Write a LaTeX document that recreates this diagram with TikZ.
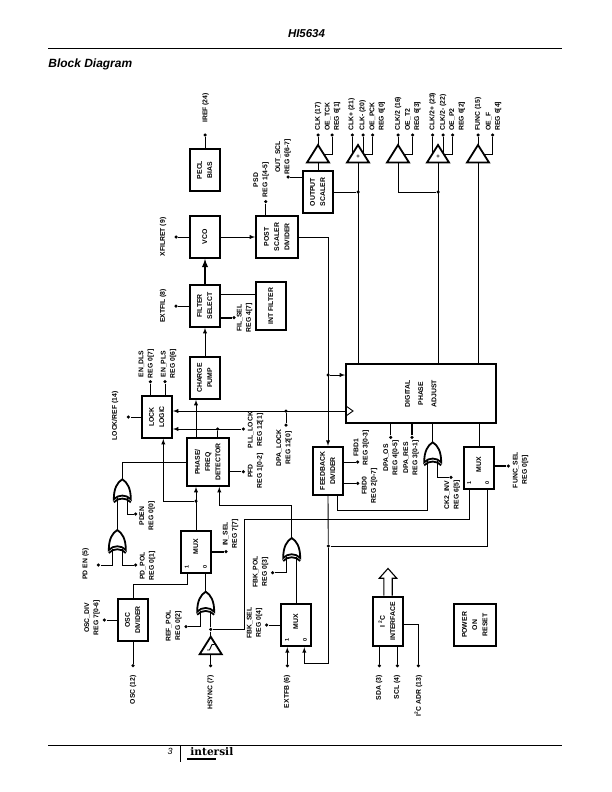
\documentclass[tikz,border=0pt]{standalone}
\usepackage{fontspec}
\setmainfont{Liberation Sans}
\newfontfamily\logofont{DejaVu Serif}
\usepackage{tikz}
\usetikzlibrary{arrows}
\newcommand{\labfont}{\fontsize{6.85}{9.3}\selectfont\bfseries}
\newcommand{\boxfont}{\fontsize{6.9}{10.3}\selectfont\bfseries}
\newcommand{\vt}[1]{\rotatebox{90}{\begin{tabular}{@{}c@{}}#1\end{tabular}}}
\tikzstyle{blockbox} = [draw, rectangle, line width=1.8bp, inner sep=0, font=\boxfont]
\tikzstyle{dotnode} = [circle, fill, inner sep=0, minimum size=3.5bp]
\tikzstyle{labmid} = [rotate=90, align=center, inner sep=0, font=\labfont]
\tikzstyle{labtop} = [rotate=90, anchor=west, align=left, inner sep=0, font=\labfont]
\tikzstyle{labend} = [rotate=90, anchor=east, inner sep=0, font=\labfont]
\tikzstyle{muxmark} = [rotate=90, inner sep=0, font=\fontsize{5.5}{6}\selectfont\bfseries]
\tikzstyle{fatwire} = [line width=1.8bp]
\tikzset{
  xorup/.pic={
    \draw[fatwire] (0,0) .. controls (5,3) and (8.5,9) .. (8.5,20)
      .. controls (4,15) and (-4,15) .. (-8.5,20)
      .. controls (-8.5,9) and (-5,3) .. (0,0) -- cycle;
    \draw[fatwire] (-8.5,23) .. controls (-4,18) and (4,18) .. (8.5,23);
    \coordinate (-out) at (0,0);
    \coordinate (-ina) at (-5,19);
    \coordinate (-inb) at (5,19);
  },
  bufup/.pic={
    \draw[fatwire] (0,0) -- (11,17.5) -- (-11,17.5) -- cycle;
    \coordinate (-out) at (0,0);
    \coordinate (-in) at (0,17.5);
    \coordinate (-oe) at (7,9.3);
    \coordinate (-side) at (0,8);
  }
}
\begin{document}
\begin{tikzpicture}[x=1bp,y=-1bp,line width=.9bp,>=latex]
  \useasboundingbox (0,0) rectangle (612,792);

  % page furniture
  \node[font=\fontsize{11.5}{12}\selectfont\bfseries\itshape] (title) at (306.5,34) {HI5634};
  \node[font=\fontsize{12}{12}\selectfont\bfseries\itshape,anchor=west,inner sep=0] (head) at (48,64) {Block Diagram};
  \coordinate (rta) at (48,48.3);
  \coordinate (rtb) at (562,48.3);
  \coordinate (rba) at (48,745);
  \coordinate (rbb) at (562,745);
  \coordinate (bara) at (180.7,745);
  \coordinate (barb) at (180.7,762);
  \draw (rta) -- (rtb);
  \draw (rba) -- (rbb);
  \draw (bara) -- (barb);
  \node[font=\fontsize{9}{10}\selectfont\itshape] (pageno) at (170,751) {3};
  \node[font=\logofont\fontsize{10.6}{12}\selectfont\bfseries,anchor=west,inner sep=0] (logo) at (190,752) {intersil};
  \coordinate (loa) at (187,759);
  \coordinate (lob) at (216,759);
  \draw[line width=1.2bp] (loa) -- (lob);

  % blocks
  \node[blockbox,minimum width=30bp,minimum height=42bp] (pecl) at (205,170) {\vt{PECL\\BIAS}};
  \node[blockbox,minimum width=30bp,minimum height=42bp] (vco) at (205,237) {\vt{VCO}};
  \node[blockbox,minimum width=42bp,minimum height=42bp] (post) at (277,237) {\vt{POST\\SCALER\\DIVIDER}};
  \node[blockbox,minimum width=30bp,minimum height=42bp] (oscal) at (318,192) {\vt{OUTPUT\\SCALER}};
  \node[blockbox,minimum width=30bp,minimum height=42bp] (filter) at (205,306) {\vt{FILTER\\SELECT}};
  \node[blockbox,minimum width=30bp,minimum height=48bp] (intf) at (271,306) {\vt{INT FILTER}};
  \node[blockbox,minimum width=30bp,minimum height=42bp] (cp) at (205,378) {\vt{CHARGE\\PUMP}};
  \node[blockbox,minimum width=30bp,minimum height=42bp] (lock) at (157,417) {\vt{LOCK\\LOGIC}};
  \node[blockbox,minimum width=42bp,minimum height=48bp] (pd) at (208,462) {\vt{PHASE/\\FREQ\\DETECTOR}};
  \node[blockbox,minimum width=150bp,minimum height=59bp] (dpa) at (421,393.7) {\vt{DIGITAL\\[3pt]PHASE\\[3pt]ADJUST}};
  \node[blockbox,minimum width=30bp,minimum height=48.6bp] (fb) at (328,471) {\vt{FEEDBACK\\DIVIDER}};
  \node[blockbox,minimum width=30bp,minimum height=42.6bp] (muxf) at (479,468) {\vt{\hspace{6pt}MUX}};
  \node[blockbox,minimum width=30bp,minimum height=42.6bp] (muxa) at (196,552) {\vt{\hspace{10pt}MUX}};
  \node[blockbox,minimum width=30bp,minimum height=42.6bp] (muxb) at (296,625) {\vt{\hspace{6pt}MUX}};
  \node[blockbox,minimum width=30.6bp,minimum height=42bp] (osc) at (133,620) {\vt{OSC\\DIVIDER}};
  \node[blockbox,minimum width=30.6bp,minimum height=49.4bp] (i2c) at (388,621.3) {\vt{I\ \textsuperscript{2}C\\INTERFACE}};
  \node[blockbox,minimum width=42.6bp,minimum height=42bp] (por) at (475,625) {\vt{POWER\\ON\\RESET}};

  % mux inputs
  \node[muxmark] (ma1) at (186.7,566.7) {1};
  \node[muxmark] (ma0) at (205,566.7) {0};
  \node[muxmark] (mb1) at (287,640) {1};
  \node[muxmark] (mb0) at (305,640) {0};
  \node[muxmark] (mf1) at (469.3,482.7) {1};
  \node[muxmark] (mf0) at (487.3,482.7) {0};

  % gates
  \pic (xa) at (122.3,479.3) {xorup};
  \pic (xb) at (117.3,530) {xorup};
  \pic (xc) at (205.7,591.7) {xorup};
  \pic (xd) at (291.7,538) {xorup};
  \pic (xe) at (432.7,442.3) {xorup};
  \pic (ba) at (318,145) {bufup};
  \pic (bb) at (358,145) {bufup};
  \pic (bc) at (398,145) {bufup};
  \pic (bd) at (438,145) {bufup};
  \pic (be) at (478,145) {bufup};
  \pic (bh) at (210.7,636.7) {bufup};
  \node[font=\fontsize{6}{6}\selectfont\bfseries,inner sep=0] (plb) at (358,156.5) {+};
  \node[font=\fontsize{6}{6}\selectfont\bfseries,inner sep=0] (pld) at (438,156.5) {+};
  \draw (207,650) -- (209.5,650) -- (212,644.5) -- (214.5,644.5);

  % pins
  \node[dotnode] (piref) at (205,135) {};
  \node[dotnode] (pxfil) at (176,237) {};
  \node[dotnode] (ppsd) at (265.7,201.7) {};
  \node[dotnode] (pscl) at (288,177) {};
  \node[dotnode] (pext) at (176,306) {};
  \node[dotnode] (pfil) at (234,317.7) {};
  \node[dotnode] (pclk) at (318,135) {};
  \node[dotnode] (ptck) at (332,135) {};
  \node[dotnode] (pclkp) at (352.3,135) {};
  \node[dotnode] (pclkm) at (363,135) {};
  \node[dotnode] (ppck) at (372.7,135) {};
  \node[dotnode] (pcktwo) at (398,135) {};
  \node[dotnode] (pttwo) at (412.7,135) {};
  \node[dotnode] (pcktp) at (432.7,135) {};
  \node[dotnode] (pcktm) at (443,135) {};
  \node[dotnode] (pptwo) at (452.7,135) {};
  \node[dotnode] (pfunc) at (478,135) {};
  \node[dotnode] (pof) at (492.7,135) {};
  \node[dotnode] (pdls) at (150.3,381.7) {};
  \node[dotnode] (ppls) at (165,381.7) {};
  \node[dotnode] (plref) at (128.3,417) {};
  \node[dotnode] (pplock) at (243.3,429) {};
  \node[dotnode] (pdlock) at (286,425) {};
  \node[dotnode] (ppfd) at (243.3,471.7) {};
  \node[dotnode] (ppden) at (135.7,514) {};
  \node[dotnode] (ppdn) at (98.3,565) {};
  \node[dotnode] (ppol) at (135.7,565) {};
  \node[dotnode] (pinsel) at (226,551.7) {};
  \node[dotnode] (pdiv) at (104.3,620) {};
  \node[dotnode] (posc) at (133,665.7) {};
  \node[dotnode] (pref) at (186,626.7) {};
  \node[dotnode] (phs) at (210.7,665.7) {};
  \node[dotnode] (pfbk) at (272.7,572.7) {};
  \node[dotnode] (pfbs) at (266.7,625) {};
  \node[dotnode] (pextfb) at (287.3,665.7) {};
  \node[dotnode] (pfbda) at (357.7,462) {};
  \node[dotnode] (pfbdb) at (357.7,483.3) {};
  \node[dotnode] (pdos) at (390.7,437.3) {};
  \node[dotnode] (pdres) at (412,437.3) {};
  \node[dotnode] (pinv) at (451,477.3) {};
  \node[dotnode] (pfsel) at (508.3,466) {};
  \node[dotnode] (psda) at (379.3,665.7) {};
  \node[dotnode] (pscla) at (397.3,665.7) {};
  \node[dotnode] (padr) at (418.3,665.7) {};

  % junctions
  \node[dotnode] (jscal) at (358,192) {};
  \node[dotnode] (jhalf) at (438,192) {};
  \node[dotnode] (jdpa) at (328,375) {};
  \node[dotnode] (jlock) at (217.7,429) {};
  \node[dotnode] (jdl) at (286,411) {};
  \node[dotnode] (jmux) at (196,501) {};
  \node[dotnode] (jhs) at (210.7,629.3) {};
  \node[dotnode] (jfb) at (328.3,546) {};
  \coordinate (cint) at (238,294);
  \coordinate (cclk) at (346,411);
  \coordinate (cll) at (163.3,501);
  \coordinate (cdet) at (219.3,505.7);
  \coordinate (cosc) at (187.3,584);
  \coordinate (chsa) at (244.3,519.3);
  \coordinate (chsb) at (469.3,519.3);
  \coordinate (cmxb) at (304.3,663.3);
  \coordinate (cmxf) at (487.5,546);
  \coordinate (cfbx) at (337.3,510);
  \coordinate (cadr) at (418.3,624.7);

  % wires, top row
  \draw (pecl) -- (piref);
  \draw (vco) -- (pxfil);
  \draw[->] (vco) -- (post);
  \draw (ppsd) -- (ppsd |- post.north);
  \draw (pscl) -- (pscl -| oscal.west);
  \draw (filter) -- (pext);
  \draw[fatwire,->] (filter) -- (vco);
  \draw[->] (cp) -- (filter);
  \draw (cint -| filter.east) -- (cint -| intf.west);
  \draw[fatwire] (pfil -| filter.east) -- (pfil);

  % wires, buffers
  \draw (ba-out) -- (pclk);
  \draw (ba-in) -- (oscal.north);
  \draw (ptck) |- (ba-oe);
  \draw (pclkp) -- (pclkp |- bb-side);
  \draw (pclkm) -- (pclkm |- bb-side);
  \draw (ppck) |- (bb-oe);
  \draw (oscal.east |- jscal) -- (jscal);
  \draw (bb-in) -- (bb-in |- dpa.north);
  \draw (bc-out) -- (pcktwo);
  \draw (pttwo) |- (bc-oe);
  \draw (bc-in) |- (jhalf);
  \draw (pcktp) -- (pcktp |- bd-side);
  \draw (pcktm) -- (pcktm |- bd-side);
  \draw (pptwo) |- (bd-oe);
  \draw (bd-in) -- (bd-in |- dpa.north);
  \draw (be-out) -- (pfunc);
  \draw (pof) |- (be-oe);
  \draw (be-in) -- (be-in |- dpa.north);

  % wires, feedback path
  \draw[->] (post.east) -| (fb.north);
  \draw[->] (jdpa) -- (jdpa -| dpa.west);
  \draw (fb.south) -- (jfb);
  \draw[->] (jfb) |- (cmxb) -- (cmxb |- muxb.south);
  \draw (jfb) -- (cmxf) -- (cmxf |- muxf.south);
  \draw (pfbda) -- (pfbda -| fb.east);
  \draw (pfbdb) -- (pfbdb -| fb.east);
  \draw (cfbx |- fb.south) -- (cfbx) -| (xe-ina);
  \draw (xe-out) -- (xe-out |- dpa.south);
  \draw (xe-inb) |- (pinv);
  \draw (pdos) -- (pdos |- dpa.south);
  \draw[fatwire] (pdres) -- (pdres |- dpa.south);
  \draw (muxf.north) -- (muxf.north |- dpa.south);
  \draw[fatwire] (pfsel) -- (pfsel -| muxf.east);

  % wires, lock and detector
  \draw[->] (cclk) -- (cclk -| lock.east);
  \draw (cclk) ++(0,-5) -- ++(7,5) -- ++(-7,5);
  \draw (jdl) -- (pdlock);
  \draw (lock) -- (plref);
  \draw (pdls) -- (pdls |- lock.north);
  \draw (ppls) -- (ppls |- lock.north);
  \draw[->] (pplock) -- (pplock -| lock.east);
  \draw (jlock) -- (jlock |- pd.north);
  \draw[->] (pd.north -| jmux) -- (cp.south -| jmux);
  \draw (ppfd) -- (ppfd -| pd.east);
  \draw[->] (muxa.north) -- (muxa.north |- pd.south);
  \draw[->] (jmux) -- (cll) -- (cll |- lock.south);
  \draw[->] (xd-out) |- (cdet) -- (cdet |- pd.south);
  \draw (pd.west) -| (xa-out);
  \draw (xa-ina) -- (xb-out);
  \draw (xa-inb) |- (ppden);
  \draw (xb-ina) |- (ppdn);
  \draw (xb-inb) |- (ppol);

  % wires, lower inputs
  \draw[fatwire] (pinsel) -- (pinsel -| muxa.east);
  \draw (cosc |- muxa.south) -- (cosc) -| (osc.north);
  \draw (osc) -- (pdiv);
  \draw (osc) -- (posc);
  \draw (xc-out) -- (xc-out |- muxa.south);
  \draw (xc-ina) |- (pref);
  \draw (xc-inb) -- (jhs);
  \draw (jhs) -- (bh-out);
  \draw (bh-in) -- (phs);
  \draw (jhs) -| (chsa) -- (chsb) -- (chsb |- muxf.south);
  \draw (xd-ina) |- (pfbk);
  \draw (xd-inb) -- (xd-inb |- muxb.north);
  \draw (pfbs) -- (muxb.west);
  \draw[->] (pextfb) -- (pextfb |- muxb.south);
  \draw (psda) -- (psda |- i2c.south);
  \draw (pscla) -- (pscla |- i2c.south);
  \draw (cadr -| i2c.east) -- (cadr) -- (padr);
  \draw[line width=1.1bp] ([xshift=-4.2bp]i2c.north) -- ++(0,-17.5) -- ++(-4.5,0) -- ++(8.7,-9.7) -- ++(8.7,9.7) -- ++(-4.5,0) -- ++(0,17.5);

  % labels
  \node[labmid] (liref) at (205.5,108) {IREF (24)};
  \node[labmid] (lxfil) at (163,237) {XFILRET (9)};
  \node[labmid] (lext) at (163,306) {EXTFIL (8)};
  \node[labmid] (lpsd) at (261,180) {PSD\\REG 1[4-5]};
  \node[labmid] (lscl) at (283,157) {OUT\_SCL\\REG 6[6-7]};
  \node[labmid] (lfil) at (244.5,318) {FIL\_SEL\\REG 4[7]};
  \node[labmid] (lplock) at (255.5,430) {PLL\_LOCK\\REG 12[1]};
  \node[labmid] (ldlock) at (284,448) {DPA\_LOCK\\REG 12[0]};
  \node[labmid] (lpfd) at (255.5,471) {PFD\\REG 1[0-2]};
  \node[labmid] (ldls) at (146.3,364) {EN\_DLS\\REG 0[7]};
  \node[labmid] (lpls) at (168.5,364) {EN\_PLS\\REG 0[6]};
  \node[labmid] (llref) at (115,416) {LOCK/REF (14)};
  \node[labmid] (lpden) at (147.2,516) {PDEN\\REG 0[0]};
  \node[labmid] (lpdn) at (85.7,564) {PD EN (5)};
  \node[labmid] (lpol) at (147.5,566) {PD\_POL\\REG 0[1]};
  \node[labmid] (linsel) at (230.5,534) {IN\_SEL\\REG 7[7]};
  \node[labmid] (ldiv) at (92,618) {OSC\_DIV\\REG 7[0-6]};
  \node[labmid] (lref) at (173.7,626) {REF\_POL\\REG 0[2]};
  \node[labmid] (lfbk) at (260.5,572) {FBK\_POL\\REG 0[3]};
  \node[labmid] (lfbs) at (254.5,623) {FBK\_SEL\\REG 0[4]};
  \node[labmid] (lfbda) at (361.3,448) {FBD1\\REG 3[0-3]};
  \node[labmid] (lfbdb) at (369.5,485.7) {FBD0\\REG 2[0-7]};
  \node[labmid] (ldos) at (391,458) {DPA\_OS\\REG 4[0-5]};
  \node[labmid] (ldres) at (411,458) {DPA\_RES\\REG 3[0-1]};
  \node[labmid] (linv) at (452.2,495) {CK2\_INV\\REG 6[5]};
  \node[labmid] (lfsel) at (520.5,470) {FUNC\_SEL\\REG 0[5]};
  \node[labtop] (lclk) at (318,131) {CLK (17)};
  \node[labtop] (ltck) at (332.5,131) {OE\_TCK\\REG 6[1]};
  \node[labtop] (lclkp) at (351.7,131) {CLK+ (21)};
  \node[labtop] (lclkm) at (362.7,131) {CLK- (20)};
  \node[labtop] (lpck) at (377.3,131) {OE\_PCK\\REG 6[0]};
  \node[labtop] (lcktwo) at (398,131) {CLK/2 (16)};
  \node[labtop] (lttwo) at (412.8,131) {OE\_T2\\REG 6[3]};
  \node[labtop] (lcktp) at (432.7,131) {CLK/2+ (23)};
  \node[labtop] (lcktm) at (443,131) {CLK/2- (22)};
  \node[labtop] (lptwo) at (457.2,131) {OE\_P2\\REG 6[2]};
  \node[labtop] (lfunc) at (478,131) {FUNC (15)};
  \node[labtop] (lof) at (493.5,131) {OE\_F\\REG 6[4]};
  \node[labend] (losc) at (133,675) {OSC (12)};
  \node[labend] (lhs) at (210.5,675) {HSYNC (7)};
  \node[labend] (lextfb) at (287,675) {EXTFB (6)};
  \node[labend] (lsda) at (379,675) {SDA (3)};
  \node[labend] (lscla) at (397,675) {SCL (4)};
  \node[labend] (ladr) at (418.3,675) {I\textsuperscript{2}C ADR (13)};
\end{tikzpicture}
\end{document}
